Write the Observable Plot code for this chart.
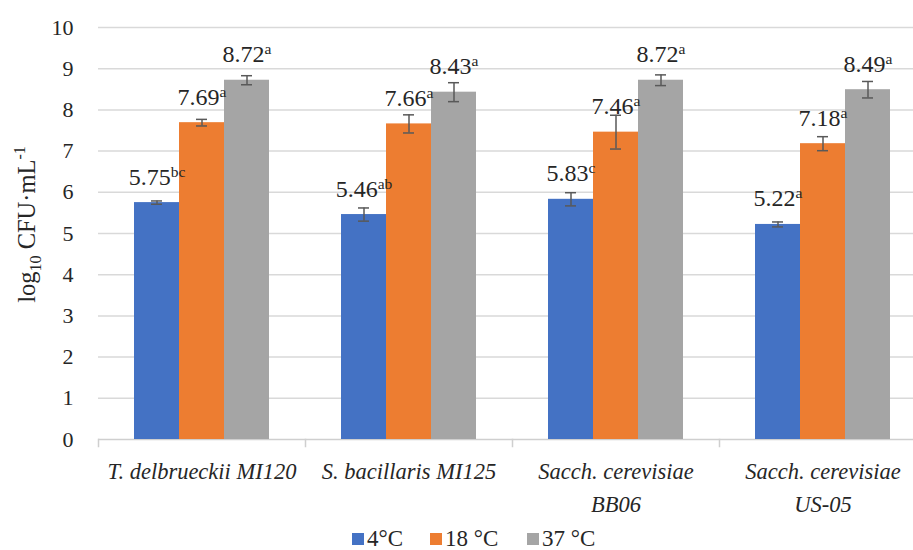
<!DOCTYPE html>
<html><head><meta charset="utf-8">
<script src="https://cdn.jsdelivr.net/npm/d3@7"></script>
<script src="https://cdn.jsdelivr.net/npm/@observablehq/plot@0.6"></script>
<style>
html,body{margin:0;padding:0;background:#fff;overflow:hidden;width:913px;height:550px;position:relative}
#chart svg{max-width:none !important;display:block}
#legend{position:absolute;left:0;top:527px;width:913px;height:24px;font-family:"Liberation Serif","DejaVu Serif","Noto Serif",serif;font-size:23px;color:#262626;white-space:nowrap}
#legend .sw{display:inline-block;width:12px;height:12px;margin-right:3px}
#legend .item{position:absolute;top:0;height:24px;display:flex;align-items:center}
</style></head>
<body>
<div id="chart"></div>
<div id="legend"></div>
<script>
const categories = ["T. delbrueckii MI120", "S. bacillaris MI125", "Sacch. cerevisiae BB06", "Sacch. cerevisiae US-05"];
const categoryLabels = ["T. delbrueckii MI120", "S. bacillaris MI125", "Sacch. cerevisiae\nBB06", "Sacch. cerevisiae\nUS-05"];
const temperatures = ["4°C", "18 °C", "37 °C"];
const colors = ["#4472C4", "#ED7D31", "#A5A5A5"];
const mean4 = [5.75, 5.46, 5.83, 5.22];
const mean18 = [7.69, 7.66, 7.46, 7.18];
const mean37 = [8.72, 8.43, 8.72, 8.49];
const err4 = [0.04, 0.16, 0.16, 0.06];
const err18 = [0.08, 0.22, 0.41, 0.17];
const err37 = [0.11, 0.23, 0.13, 0.20];
const letters4 = ["bc", "ab", "c", "a"];
const letters18 = ["a", "a", "a", "a"];
const letters37 = ["a", "a", "a", "a"];
const yTicks = [0, 1, 2, 3, 4, 5, 6, 7, 8, 9, 10];
const yLabel = "log10 CFU·mL-1";
const legendLeft = [352, 430, 527];

const means = [mean4, mean18, mean37];
const errs = [err4, err18, err37];
const letters = [letters4, letters18, letters37];
const rows = [];
categories.forEach((c, i) => temperatures.forEach((t, j) => rows.push({
  category: c, temperature: t, value: means[j][i], error: errs[j][i], letter: letters[j][i]
})));

const ink = "#262626";
const serif = "'Liberation Serif', 'DejaVu Serif', 'Noto Serif', serif";
const plot = Plot.plot({
  width: 926, height: 550,
  marginLeft: 98, marginRight: 0, marginTop: 27, marginBottom: 111,
  style: {fontFamily: serif, fontSize: "22px", color: ink, background: "#fff"},
  fx: {domain: categories, padding: 0, axis: null},
  x: {domain: temperatures, paddingInner: 0, paddingOuter: 0.766, axis: null},
  y: {domain: [0, 10], axis: null},
  color: {domain: temperatures, range: colors},
  marks: [
    Plot.ruleY(yTicks.slice(1), {stroke: "#d9d9d9", strokeWidth: 1.5}),
    Plot.ruleY([0], {stroke: "#cfcfcf", strokeWidth: 1.5}),
    Plot.frame({anchor: "left", stroke: "#cfcfcf", strokeWidth: 1.5, insetTop: 412, insetBottom: -7}),
    Plot.barY(rows, {fx: "category", x: "temperature", y: "value", fill: "temperature"}),
    Plot.ruleX(rows, {fx: "category", x: "temperature", y1: d => d.value - d.error, y2: d => d.value + d.error, stroke: "#595959", strokeWidth: 1.5}),
    Plot.tickY(rows, {fx: "category", x: "temperature", y: d => d.value + d.error, stroke: "#595959", strokeWidth: 1.5, insetLeft: 17, insetRight: 17}),
    Plot.tickY(rows, {fx: "category", x: "temperature", y: d => d.value - d.error, stroke: "#595959", strokeWidth: 1.5, insetLeft: 17, insetRight: 17}),
    Plot.text(rows, {fx: "category", x: "temperature", y: "value", text: d => d.value.toFixed(2) + "^" + d.letter, dy: -18, lineAnchor: "bottom", fontSize: 24, fill: ink}),
    Plot.axisY({ticks: yTicks, tickSize: 0, tickPadding: 25, fontSize: 22, label: null, tickFormat: d => String(d), fill: ink}),
    Plot.text(categories, {fx: d => d, text: (d, i) => categoryLabels[i], y: 0, dy: 16, lineAnchor: "top", fontStyle: "italic", lineHeight: 1.47, fontSize: 22.5, fill: ink}),
    Plot.text([yLabel], {fx: () => categories[0], frameAnchor: "left", textAnchor: "middle", rotate: -90, dx: -71, dy: -9, text: d => d, lineAnchor: "middle", fontSize: 24.5, fill: ink})
  ]
});

d3.select(plot).selectAll("text").each(function () {
  const t = this.textContent;
  const el = d3.select(this);
  if (t.includes("^")) {
    const [main, sup] = t.split("^");
    this.textContent = "";
    el.append("tspan").text(main);
    el.append("tspan").attr("font-size", 15.5).attr("dy", -8).text(sup);
  } else if (t === yLabel) {
    this.textContent = "";
    el.append("tspan").text("log");
    el.append("tspan").attr("font-size", 16).attr("dy", 6).text("10");
    el.append("tspan").attr("dy", -6).text(" CFU·mL");
    el.append("tspan").attr("font-size", 16).attr("dy", -10).text("-1");
  }
});

document.getElementById("chart").append(plot);

const legend = d3.select("#legend");
temperatures.forEach((t, i) => {
  const item = legend.append("div").attr("class", "item").style("left", legendLeft[i] + "px");
  item.append("span").attr("class", "sw").style("background", colors[i]);
  item.append("span").text(t);
});
</script>
</body></html>
